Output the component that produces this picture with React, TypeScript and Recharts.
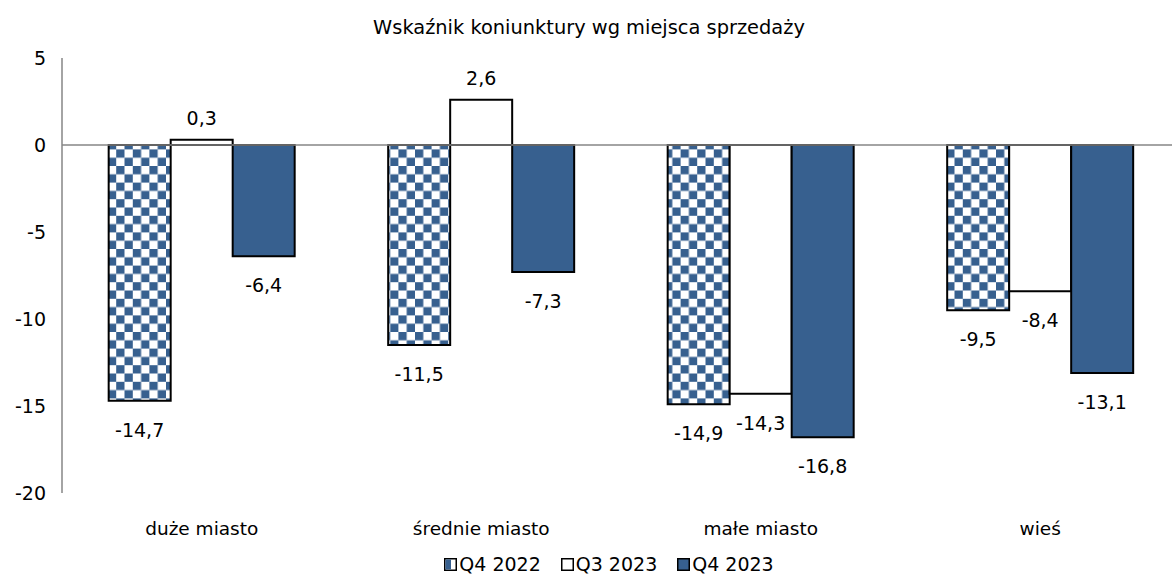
import { BarChart, Bar, XAxis, YAxis, ReferenceLine, Legend, LabelList } from "recharts";

const categories = ["duże miasto", "średnie miasto", "małe miasto", "wieś"];
const q4_2022 = [-14.7, -11.5, -14.9, -9.5];
const q3_2023 = [0.3, 2.6, -14.3, -8.4];
const q4_2023 = [-6.4, -7.3, -16.8, -13.1];
const yTicks = [5, 0, -5, -10, -15, -20];

const data = categories.map((name, i) => ({
  name,
  a: q4_2022[i],
  b: q3_2023[i],
  c: q4_2023[i],
}));

const FONT = "'DejaVu Sans', Verdana, sans-serif";
const BLUE = "#37608f";

const fmt = (v: number) => String(v).replace(".", ",");

function ValueLabel(props: any) {
  const { x, y, width, height, value } = props;
  const top = Math.min(y, y + height);
  const bottom = Math.max(y, y + height);
  const cy = value >= 0 ? top - 22 : bottom + 29;
  return (
    <text
      x={x + width / 2}
      y={cy}
      textAnchor="middle"
      dominantBaseline="central"
      fontSize={19}
      fontFamily={FONT}
      fill="#000"
    >
      {fmt(value)}
    </text>
  );
}

const legendItems = [
  { label: "Q4 2022", fill: "url(#checker)" },
  { label: "Q3 2023", fill: "#fff" },
  { label: "Q4 2023", fill: BLUE },
];

function LegendContent() {
  return (
    <div style={{ display: "flex", justifyContent: "center", gap: 20, fontFamily: FONT, fontSize: 19, paddingTop: 8, marginLeft: 38 }}>
      {legendItems.map((it) => (
        <div key={it.label} style={{ display: "flex", alignItems: "center" }}>
          <svg width={13} height={13} style={{ marginRight: 2 }}>
            <rect x={0.75} y={0.75} width={11.5} height={11.5} fill={it.fill === "url(#checker)" ? "#fff" : it.fill} stroke="#000" strokeWidth={1.5} />
            {it.fill === "url(#checker)" && <rect x={1.5} y={1.5} width={5.5} height={10} fill={BLUE} />}
          </svg>
          <span>{it.label}</span>
        </div>
      ))}
    </div>
  );
}

export default function App() {
  return (
    <div style={{ position: "absolute", left: 0, top: 0, width: 1172, height: 581, overflow: "hidden", background: "#fff" }}>
      <div
        style={{
          position: "absolute",
          top: 16,
          left: 0,
          width: 1178,
          textAlign: "center",
          fontFamily: FONT,
          fontSize: 19.4,
          color: "#000",
        }}
      >
        Wskaźnik koniunktury wg miejsca sprzedaży
      </div>
      <BarChart
        width={1190}
        height={581}
        data={data}
        margin={{ top: 58, right: 10, bottom: 0, left: 0 }}
        barCategoryGap="16.7%"
        barGap={0}
      >
        <defs>
          <pattern id="checker" patternUnits="userSpaceOnUse" width={16.6} height={16.6}>
            <rect x={0} y={0} width={16.6} height={16.6} fill="#fff" />
            <rect x={0} y={0} width={8.3} height={8.3} fill={BLUE} />
            <rect x={8.3} y={8.3} width={8.3} height={8.3} fill={BLUE} />
          </pattern>
        </defs>
        <XAxis
          dataKey="name"
          axisLine={false}
          tickLine={false}
          height={52}
          tickMargin={23}
          tick={{ fontSize: 18.5, fontFamily: FONT, fill: "#000" }}
        />
        <YAxis
          domain={[-20, 5]}
          ticks={yTicks}
          interval={0}
          width={62}
          tickLine={false}
          tickSize={0}
          tickMargin={16}
          axisLine={{ stroke: "#868686", strokeWidth: 1.5 }}
          tick={{ fontSize: 19, fontFamily: FONT, fill: "#000" }}
        />
        <Legend verticalAlign="bottom" height={36} content={<LegendContent />} />
        <ReferenceLine y={0} stroke="#868686" strokeWidth={1.5} />
        <Bar dataKey="a" name="Q4 2022" fill="url(#checker)" stroke="#000" strokeWidth={2} isAnimationActive={false}>
          <LabelList dataKey="a" content={<ValueLabel />} />
        </Bar>
        <Bar dataKey="b" name="Q3 2023" fill="#fff" stroke="#000" strokeWidth={2} isAnimationActive={false}>
          <LabelList dataKey="b" content={<ValueLabel />} />
        </Bar>
        <Bar dataKey="c" name="Q4 2023" fill={BLUE} stroke="#000" strokeWidth={2} isAnimationActive={false}>
          <LabelList dataKey="c" content={<ValueLabel />} />
        </Bar>
      </BarChart>
    </div>
  );
}
